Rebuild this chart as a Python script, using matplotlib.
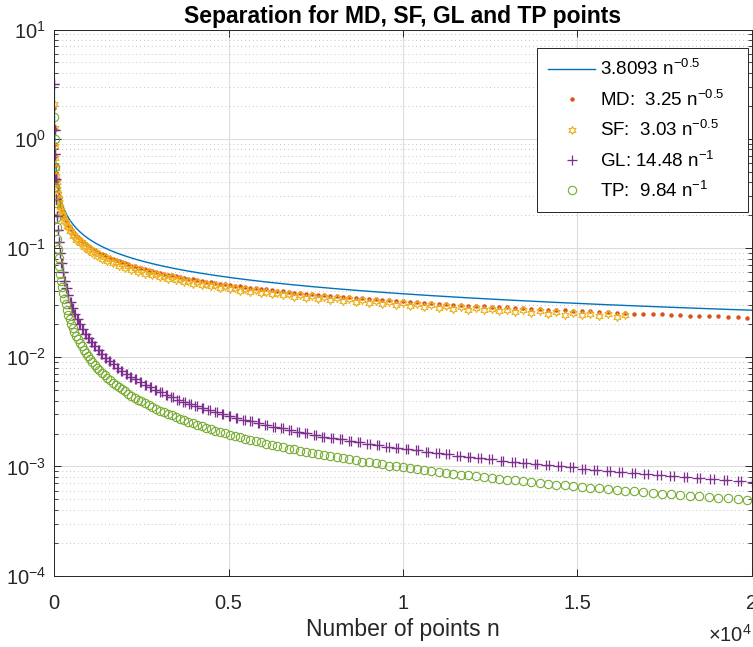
import matplotlib
matplotlib.use("Agg")
import matplotlib.pyplot as plt
import numpy as np

plt.rcParams["font.family"] = ["Liberation Sans", "DejaVu Sans"]
plt.rcParams["mathtext.default"] = "regular"

# sample sizes n = k^2 (k = 2..141), shared by MD, SF and TP
n_sq = [4, 9, 16, 25, 36, 49, 64, 81, 100, 121, 144, 169, 196, 225, 256, 289, 324, 361, 400, 441,
        484, 529, 576, 625, 676, 729, 784, 841, 900, 961, 1024, 1089, 1156, 1225, 1296, 1369, 1444,
        1521, 1600, 1681, 1764, 1849, 1936, 2025, 2116, 2209, 2304, 2401, 2500, 2601, 2704, 2809,
        2916, 3025, 3136, 3249, 3364, 3481, 3600, 3721, 3844, 3969, 4096, 4225, 4356, 4489, 4624,
        4761, 4900, 5041, 5184, 5329, 5476, 5625, 5776, 5929, 6084, 6241, 6400, 6561, 6724, 6889,
        7056, 7225, 7396, 7569, 7744, 7921, 8100, 8281, 8464, 8649, 8836, 9025, 9216, 9409, 9604,
        9801, 10000, 10201, 10404, 10609, 10816, 11025, 11236, 11449, 11664, 11881, 12100, 12321,
        12544, 12769, 12996, 13225, 13456, 13689, 13924, 14161, 14400, 14641, 14884, 15129, 15376,
        15625, 15876, 16129, 16384, 16641, 16900, 17161, 17424, 17689, 17956, 18225, 18496, 18769,
        19044, 19321, 19600, 19881]

md_sep = [1.91, 1.23, 0.89, 0.70, 0.575, 0.487, 0.42, 0.372, 0.333, 0.301, 0.275, 0.253, 0.235,
          0.219, 0.205, 0.192, 0.181, 0.171, 0.163, 0.155, 0.148, 0.141, 0.136, 0.130, 0.125,
          0.1205, 0.1162, 0.1120, 0.1085, 0.1047, 0.1017, 0.0984, 0.0957, 0.0928, 0.0904, 0.0877,
          0.0856, 0.0832, 0.0814, 0.0792, 0.0775, 0.0755, 0.0740, 0.0721, 0.0708, 0.0690, 0.0678,
          0.0662, 0.0651, 0.0636, 0.0626, 0.0612, 0.0603, 0.0590, 0.0581, 0.0569, 0.0561, 0.0550,
          0.0543, 0.0532, 0.0525, 0.0515, 0.0509, 0.0499, 0.0493, 0.0484, 0.0479, 0.0470, 0.0465,
          0.0457, 0.0452, 0.0444, 0.0440, 0.0432, 0.0429, 0.0421, 0.0418, 0.0410, 0.0407, 0.0400,
          0.0397, 0.0391, 0.0388, 0.0381, 0.0379, 0.0373, 0.0370, 0.0364, 0.0362, 0.0356, 0.0354,
          0.0348, 0.0347, 0.0341, 0.0340, 0.0334, 0.0333, 0.0327, 0.0326, 0.0321, 0.0320, 0.0315,
          0.0314, 0.0309, 0.0308, 0.0303, 0.0302, 0.0297, 0.0296, 0.0292, 0.0291, 0.0287, 0.0286,
          0.0282, 0.0281, 0.0277, 0.0276, 0.0272, 0.0272, 0.0268, 0.0267, 0.0263, 0.0263, 0.0259,
          0.0259, 0.0255, 0.0255, 0.0251, 0.0251, 0.0247, 0.0247, 0.0243, 0.0244, 0.0240, 0.0240,
          0.0236, 0.0237, 0.0233, 0.0233, 0.0230]

# SF stops at n = 128^2
sf_sep = [2.10, 1.25, 0.86, 0.66, 0.545, 0.455, 0.40, 0.345, 0.315, 0.28, 0.262, 0.236, 0.224,
          0.205, 0.195, 0.176, 0.174, 0.158, 0.156, 0.142, 0.143, 0.130, 0.131, 0.119, 0.121,
          0.110, 0.1125, 0.102, 0.105, 0.0955, 0.0985, 0.0895, 0.0925, 0.0845, 0.0875, 0.0800,
          0.0828, 0.0760, 0.0786, 0.0722, 0.0748, 0.0690, 0.0712, 0.0660, 0.0680, 0.0632, 0.0652,
          0.0606, 0.0626, 0.0583, 0.0601, 0.0561, 0.0578, 0.0541, 0.0557, 0.0522, 0.0538, 0.0504,
          0.0520, 0.0487, 0.0503, 0.0472, 0.0487, 0.0457, 0.0472, 0.0444, 0.0458, 0.0431, 0.0445,
          0.0419, 0.0433, 0.0408, 0.0421, 0.0397, 0.0410, 0.0387, 0.0399, 0.0377, 0.0389, 0.0368,
          0.0380, 0.0359, 0.0371, 0.0350, 0.0362, 0.0342, 0.0354, 0.0334, 0.0346, 0.0327, 0.0339,
          0.0320, 0.0331, 0.0313, 0.0325, 0.0307, 0.0318, 0.0301, 0.0312, 0.0295, 0.0306, 0.0289,
          0.0300, 0.0284, 0.0294, 0.0278, 0.0289, 0.0273, 0.0283, 0.0268, 0.0278, 0.0264, 0.0273,
          0.0259, 0.0269, 0.0255, 0.0264, 0.0251, 0.0260, 0.0246, 0.0255, 0.0242, 0.0251, 0.0238,
          0.0247, 0.0235, 0.0243]

tp_sep = [1.59, 1.0, 0.55, 0.36, 0.26, 0.19, 0.154, 0.121, 0.0984, 0.0813, 0.0683, 0.0582,
          0.0502, 0.0437, 0.0384, 0.0340, 0.0304, 0.0273, 0.0246, 0.0223, 0.0203, 0.0186, 0.0171,
          0.0157, 0.0146, 0.0135, 0.01255, 0.0117, 0.01093, 0.01024, 0.00961, 0.00904, 0.00851,
          0.00803, 0.00759, 0.00719, 0.00681, 0.00647, 0.00615, 0.00585, 0.00558, 0.00532,
          0.00508, 0.00486, 0.00465, 0.00445, 0.00427, 0.00410, 0.00394, 0.00378, 0.00364,
          0.00350, 0.00337, 0.00325, 0.00314, 0.00303, 0.00293, 0.00283, 0.00273, 0.00264,
          0.00256, 0.00248, 0.00240, 0.00233, 0.00226, 0.00219, 0.00213, 0.00207, 0.00201,
          0.00195, 0.00190, 0.00185, 0.00180, 0.00175, 0.00170, 0.00166, 0.00162, 0.00158,
          0.00154, 0.00150, 0.00146, 0.00143, 0.00139, 0.00136, 0.00133, 0.00130, 0.00127,
          0.00124, 0.00121, 0.00119, 0.00116, 0.00114, 0.00111, 0.00109, 0.00107, 0.00105,
          0.00102, 0.00100, 0.000984, 0.000965, 0.000946, 0.000928, 0.000910, 0.000893, 0.000876,
          0.000859, 0.000844, 0.000828, 0.000813, 0.000799, 0.000784, 0.000771, 0.000757,
          0.000744, 0.000731, 0.000719, 0.000707, 0.000695, 0.000683, 0.000672, 0.000661,
          0.000650, 0.000640, 0.000630, 0.000620, 0.000610, 0.000601, 0.000591, 0.000582,
          0.000573, 0.000565, 0.000556, 0.000548, 0.000540, 0.000532, 0.000524, 0.000517,
          0.000509, 0.000502, 0.000495]

# GL comes in close pairs: n = 2k^2 and n = 2k^2 + k (k = 1..100)
gl_n_a = [2, 8, 18, 32, 50, 72, 98, 128, 162, 200, 242, 288, 338, 392, 450, 512, 578, 648, 722,
          800, 882, 968, 1058, 1152, 1250, 1352, 1458, 1568, 1682, 1800, 1922, 2048, 2178, 2312,
          2450, 2592, 2738, 2888, 3042, 3200, 3362, 3528, 3698, 3872, 4050, 4232, 4418, 4608, 4802,
          5000, 5202, 5408, 5618, 5832, 6050, 6272, 6498, 6728, 6962, 7200, 7442, 7688, 7938, 8192,
          8450, 8712, 8978, 9248, 9522, 9800, 10082, 10368, 10658, 10952, 11250, 11552, 11858,
          12168, 12482, 12800, 13122, 13448, 13778, 14112, 14450, 14792, 15138, 15488, 15842,
          16200, 16562, 16928, 17298, 17672, 18050, 18432, 18818, 19208, 19602, 20000]
gl_n_b = [3, 10, 21, 36, 55, 78, 105, 136, 171, 210, 253, 300, 351, 406, 465, 528, 595, 666, 741,
          820, 903, 990, 1081, 1176, 1275, 1378, 1485, 1596, 1711, 1830, 1953, 2080, 2211, 2346,
          2485, 2628, 2775, 2926, 3081, 3240, 3403, 3570, 3741, 3916, 4095, 4278, 4465, 4656, 4851,
          5050, 5253, 5460, 5671, 5886, 6105, 6328, 6555, 6786, 7021, 7260, 7503, 7750, 8001, 8256,
          8515, 8778, 9045, 9316, 9591, 9870, 10153, 10440, 10731, 11026, 11325, 11628, 11935,
          12246, 12561, 12880, 13203, 13530, 13861, 14196, 14535, 14878, 15225, 15576, 15931,
          16290, 16653, 17020, 17391, 17766, 18145, 18528, 18915, 19306, 19701, 20100]
gl_sep = [3.14, 1.21, 0.72, 0.43, 0.28, 0.197, 0.146, 0.1131, 0.0894, 0.0724, 0.0598, 0.0503,
          0.0428, 0.0369, 0.0322, 0.0283, 0.0251, 0.0223, 0.0201, 0.0181, 0.01642, 0.01496,
          0.01369, 0.01257, 0.01158, 0.01071, 0.00993, 0.00923, 0.00861, 0.00804, 0.00753,
          0.00707, 0.00665, 0.00626, 0.00591, 0.00559, 0.00529, 0.00501, 0.00476, 0.00453,
          0.00431, 0.00410, 0.00392, 0.00374, 0.00358, 0.00342, 0.00328, 0.00314, 0.00302,
          0.00290, 0.00278, 0.00268, 0.00258, 0.00248, 0.00239, 0.00231, 0.00223, 0.00215,
          0.00208, 0.00201, 0.00195, 0.00188, 0.00182, 0.00177, 0.00171, 0.00166, 0.00161,
          0.00157, 0.00152, 0.00148, 0.00144, 0.00140, 0.00136, 0.00132, 0.00129, 0.00125,
          0.00122, 0.00119, 0.00116, 0.00113, 0.00110, 0.00108, 0.00105, 0.00103, 0.00100,
          0.000979, 0.000957, 0.000935, 0.000914, 0.000894, 0.000874, 0.000855, 0.000837,
          0.000819, 0.000802, 0.000786, 0.000769, 0.000754, 0.000739, 0.000724]

# fitted curve c * n^p from the legend
fit_c, fit_p = 3.8093, -0.5
labels = ["3.8093 n$^{-0.5}$", "MD:  3.25 n$^{-0.5}$", "SF:  3.03 n$^{-0.5}$",
          "GL: 14.48 n$^{-1}$", "TP:  9.84 n$^{-1}$"]
xtick_vals = [0, 5000, 10000, 15000, 20000]
xtick_text = ["0", "0.5", "1", "1.5", "2"]

c_fit, c_md, c_sf, c_gl, c_tp = "#0072BD", "#D95319", "#EDB120", "#7E2F8E", "#77AC30"
axc = "#262626"

W, H = 753, 647
ax_l, ax_r, ax_t, ax_b = 54.3, 751.5, 29.5, 575.7
fig = plt.figure(figsize=(W / 100, H / 100), dpi=100)
ax = fig.add_axes([ax_l / W, (H - ax_b) / H, (ax_r - ax_l) / W, (ax_b - ax_t) / H])

fit_n = np.linspace(1, 20000, 4000)
ax.plot(fit_n, fit_c * fit_n ** fit_p, color=c_fit, lw=1.0, label=labels[0])
n_sq_sf = n_sq[:len(sf_sep)]
ax.plot(n_sq, md_sep, ls="none", marker="o", ms=3.2, mec="none", mfc=c_md, label=labels[1])
ax.plot(n_sq_sf, sf_sep, ls="none", marker=(6, 1, 0), ms=6, mfc="none", mec=c_sf, mew=0.8,
        label=labels[2])
ax.plot(gl_n_a, gl_sep, ls="none", marker="+", ms=6.5, mec=c_gl, mew=0.9, label=labels[3])
ax.plot(gl_n_b, gl_sep, ls="none", marker="+", ms=6.5, mec=c_gl, mew=0.9)
ax.plot(n_sq, tp_sep, ls="none", marker="o", ms=6, mfc="none", mec=c_tp, mew=0.8, label=labels[4])

ax.set_yscale("log")
ax.set_ylim(1e-4, 10)
ax.set_xlim(0, 20000)
ax.set_xticks(xtick_vals)
ax.set_xticklabels(xtick_text)

ax.grid(True, which="major", color="#dcdcdc", lw=0.8, ls="-")
ax.grid(True, which="minor", axis="y", color="#c4c4c4", lw=0.7, ls=(0, (1, 3)))
ax.set_axisbelow(True)
ax.tick_params(which="both", direction="in", top=True, right=True, colors=axc, labelsize=14.5,
               labelcolor=axc)
ax.tick_params(which="major", length=5, width=0.7)
ax.tick_params(which="minor", length=3, width=0.6)
ax.tick_params(axis="x", pad=13)
ax.tick_params(axis="y", pad=6)
for s in ax.spines.values():
    s.set_color(axc)
    s.set_linewidth(0.7)

ax.set_xlabel("Number of points n", fontsize=16.5, color=axc)
ax.xaxis.label.set_va("center")
ax.xaxis.set_label_coords(0.5, -0.099)
ax.text(1.0, -0.109, r"$\times10^{4}$", transform=ax.transAxes, ha="right", va="center",
        fontsize=14.5, color=axc)
ax.set_title("Separation for MD, SF, GL and TP points", fontsize=16.5, fontweight="bold", pad=5)

axw, axh = ax_r - ax_l, ax_b - ax_t
leg_x0, leg_x1, leg_top = 537, 748, 48
leg = ax.legend(loc="upper left",
                bbox_to_anchor=((leg_x0 - ax_l) / axw, 0, (leg_x1 - leg_x0) / axw,
                                (ax_b - leg_top) / axh),
                mode="expand", fontsize=13.5, frameon=True, fancybox=False, framealpha=1,
                edgecolor=axc, handlelength=2.5, handletextpad=0.25, labelspacing=0.55,
                borderpad=0.6, borderaxespad=0)
leg.get_frame().set_linewidth(0.7)

fig.savefig("out.png", dpi=100)
